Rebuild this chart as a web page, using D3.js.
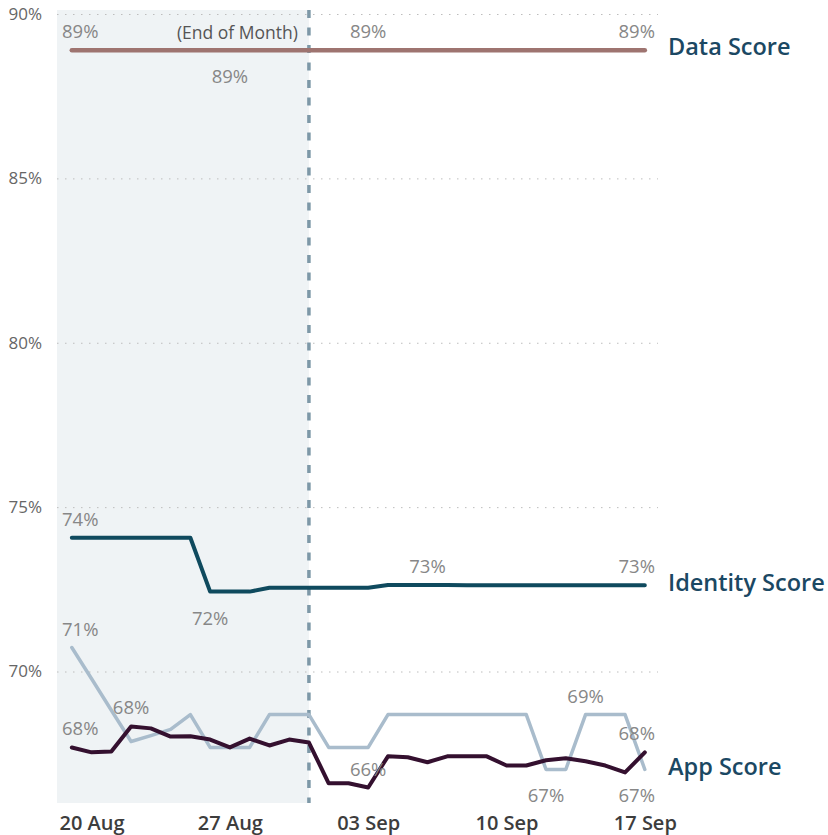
<!DOCTYPE html>
<html>
<head>
<meta charset="utf-8">
<script src="https://cdn.jsdelivr.net/npm/d3@7"></script>
<style>
	body { margin: 0; background: #fff; }
	svg { display: block; font-family: "Open Sans", "Noto Sans", sans-serif; }
</style>
</head>
<body>
<svg></svg>
<script>
// daily snapshots, 19 Aug -> 17 Sep
const dates = [
	"2023-08-19", "2023-08-20", "2023-08-21", "2023-08-22", "2023-08-23", "2023-08-24",
	"2023-08-25", "2023-08-26", "2023-08-27", "2023-08-28", "2023-08-29", "2023-08-30",
	"2023-08-31", "2023-09-01", "2023-09-02", "2023-09-03", "2023-09-04", "2023-09-05",
	"2023-09-06", "2023-09-07", "2023-09-08", "2023-09-09", "2023-09-10", "2023-09-11",
	"2023-09-12", "2023-09-13", "2023-09-14", "2023-09-15", "2023-09-16", "2023-09-17"
];

const dataScore = [
	88.9, 88.9, 88.9, 88.9, 88.9, 88.9, 88.9, 88.9, 88.9, 88.9,
	88.9, 88.9, 88.9, 88.9, 88.9, 88.9, 88.9, 88.9, 88.9, 88.9,
	88.9, 88.9, 88.9, 88.9, 88.9, 88.9, 88.9, 88.9, 88.9, 88.9
];

const identityScore = [
	74.07, 74.07, 74.07, 74.07, 74.07, 74.07, 74.07, 72.43, 72.43, 72.43,
	72.55, 72.55, 72.55, 72.55, 72.55, 72.55, 72.63, 72.63, 72.63, 72.63,
	72.62, 72.62, 72.62, 72.62, 72.62, 72.62, 72.62, 72.62, 72.62, 72.62
];

const appScore = [
	70.73, 69.78, 68.82, 67.87, 68.05, 68.24, 68.69, 67.69, 67.69, 67.69,
	68.69, 68.69, 68.69, 67.69, 67.69, 67.69, 68.69, 68.69, 68.69, 68.69,
	68.69, 68.69, 68.69, 68.69, 67.02, 67.02, 68.69, 68.69, 68.69, 67.02
];

const appScoreDaily = [
	67.69, 67.54, 67.57, 68.33, 68.27, 68.02, 68.03, 67.93, 67.69, 67.96,
	67.75, 67.93, 67.84, 66.60, 66.60, 66.47, 67.42, 67.39, 67.24, 67.42,
	67.42, 67.42, 67.14, 67.14, 67.30, 67.36, 67.27, 67.14, 66.93, 67.54
];

// which points carry a data label, and whether it sits above or below
const dataLabels = [[0, "up"], [8, "down"], [15, "up"], [29, "up"]];
const identityLabels = [[0, "up"], [7, "down"], [18, "up"], [29, "up"]];
const appLabels = [[0, "up"], [24, "down"], [26, "up"], [29, "down"]];
const appDailyLabels = [[0, "up"], [3, "up"], [15, "up"], [29, "up"]];

const xTicks = ["2023-08-20", "2023-08-27", "2023-09-03", "2023-09-10", "2023-09-17"];
const yTicks = [70, 75, 80, 85, 90];
const monthEnd = "2023-08-31";

let drawChart = function() {

	const width = 828;
	const height = 835;
	const left = 57;
	const right = 658;
	const top = 14;
	const bottom = 803;

	const parse = d3.timeParse("%Y-%m-%d");
	const days = dates.map(parse);

	let svg = d3.select("svg")
		.attr("width", width)
		.attr("height", height);

	let xScale = d3.scaleTime()
		.domain([d3.timeHour.offset(days[0], -18), d3.timeHour.offset(days[days.length - 1], 16)])
		.range([left, right]);

	let yScale = d3.scaleLinear()
		.domain([66, 90])
		.range([bottom, top]);

	// shaded "current month" band + dashed month end marker
	let xEnd = xScale(parse(monthEnd));
	svg.append("rect")
		.attr("x", left)
		.attr("y", 10)
		.attr("width", xEnd - left)
		.attr("height", bottom - 10)
		.attr("fill", "#eff3f5");

	// dotted gridlines
	svg.append("g")
		.attr("transform", `translate(${left}, 0)`)
		.call(d3.axisRight(yScale).tickValues(yTicks).tickSize(right - left).tickFormat(""))
		.call(g => g.select(".domain").remove())
		.selectAll("line")
			.attr("stroke", "#bdbdbd")
			.attr("stroke-dasharray", "1.5,6.5");

	svg.append("line")
		.attr("x1", xEnd)
		.attr("x2", xEnd)
		.attr("y1", 10)
		.attr("y2", bottom)
		.attr("stroke", "#7d98a7")
		.attr("stroke-width", 3.5)
		.attr("stroke-dasharray", "8,9.5");

	svg.append("text")
		.attr("x", xEnd - 11)
		.attr("y", 39)
		.attr("text-anchor", "end")
		.attr("fill", "#555")
		.style("font-size", "17.5px")
		.text("(End of Month)");

	// y axis labels
	svg.append("g")
		.attr("transform", `translate(${left}, 0)`)
		.call(d3.axisLeft(yScale).tickValues(yTicks).tickSize(0).tickPadding(15).tickFormat(d => d + "%"))
		.call(g => g.select(".domain").remove())
		.selectAll("text")
			.attr("fill", "#666")
			.style("font-size", "17px")
			.style("font-family", "\"Open Sans\", sans-serif");

	// x axis labels
	svg.append("g")
		.attr("transform", `translate(0, ${bottom})`)
		.call(d3.axisBottom(xScale).tickValues(xTicks.map(parse)).tickSize(0).tickPadding(13).tickFormat(d3.timeFormat("%d %b")))
		.call(g => g.select(".domain").remove())
		.selectAll("text")
			.attr("fill", "#3d3d3d")
			.style("font-size", "20px")
			.style("font-weight", 600)
			.style("font-family", "\"Open Sans\", sans-serif");

	const series = [
		{ values: appScore, color: "#a9bccc", width: 3.5, labels: appLabels },
		{ values: appScoreDaily, color: "#34102f", width: 4, labels: appDailyLabels },
		{ values: identityScore, color: "#0f4a5e", width: 4, labels: identityLabels },
		{ values: dataScore, color: "#9e7470", width: 4.5, labels: dataLabels }
	];

	let line = d3.line()
		.x((d, i) => xScale(days[i]))
		.y(d => yScale(d));

	series.forEach(s => {
		svg.append("path")
			.datum(s.values)
			.attr("fill", "none")
			.attr("stroke", s.color)
			.attr("stroke-width", s.width)
			.attr("stroke-linejoin", "round")
			.attr("stroke-linecap", "round")
			.attr("d", line);
	});

	// point labels (kept inside the plot at both ends)
	series.forEach(s => {
		s.labels.forEach(([i, pos]) => {
			let x = xScale(days[i]);
			let anchor = "middle";
			if (i === 0) { x = left + 5; anchor = "start"; }
			if (i === days.length - 1) { x = right - 3; anchor = "end"; }
			let y = yScale(s.values[i]) + (pos === "up" ? -12 : 33);
			svg.append("text")
				.attr("x", x)
				.attr("y", y)
				.attr("text-anchor", anchor)
				.attr("fill", "#878787")
				.style("font-size", "18.5px")
				.text(Math.round(s.values[i]) + "%");
		});
	});

	// series names at line ends
	const names = [
		["Data Score", dataScore],
		["Identity Score", identityScore],
		["App Score", appScore]
	];
	svg.selectAll(".series-name")
		.data(names)
		.enter()
		.append("text")
			.classed("series-name", true)
			.attr("x", 668)
			.attr("y", d => yScale(d[1][d[1].length - 1]) - 3)
			.attr("dy", "0.35em")
			.attr("fill", "#1b4863")
			.style("font-size", "23.5px")
			.style("font-weight", 600)
			.text(d => d[0]);
}

document.addEventListener("DOMContentLoaded", drawChart);
</script>
</body>
</html>
